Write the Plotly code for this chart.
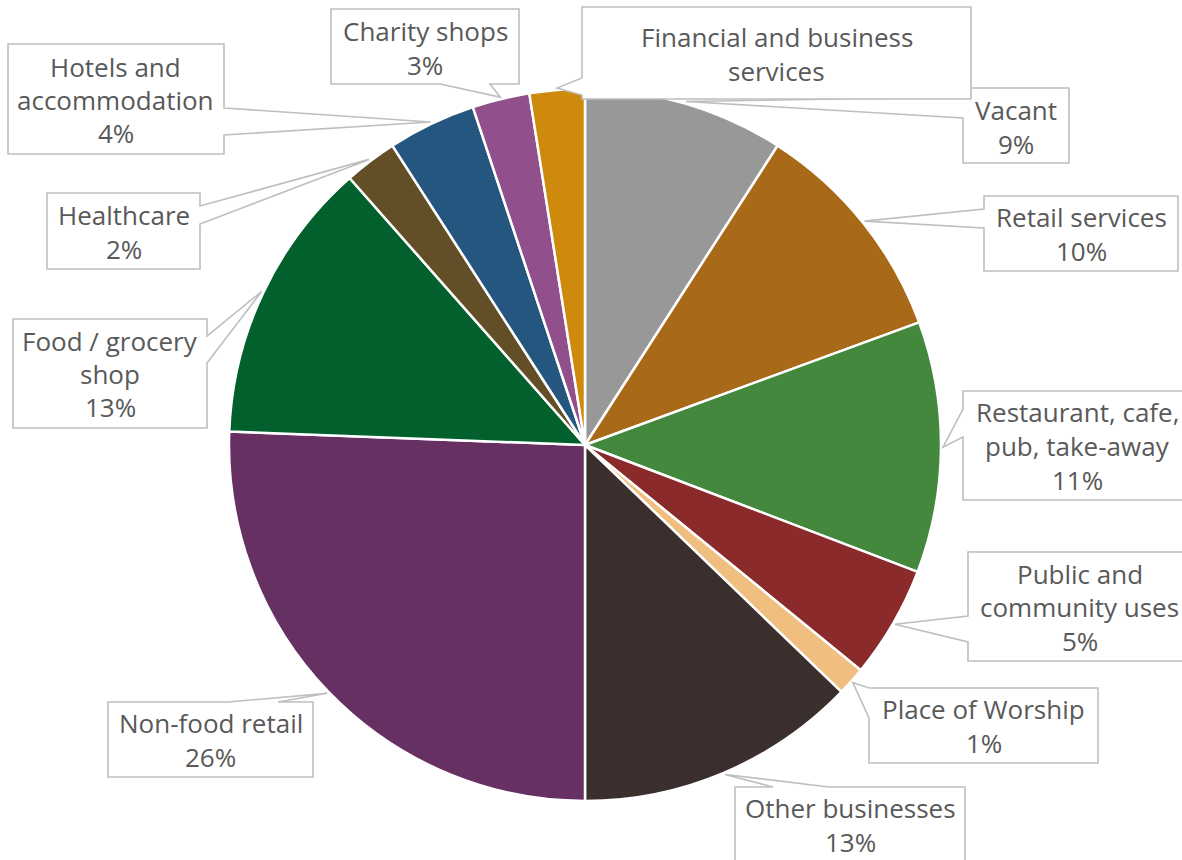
import math
import plotly.graph_objects as go

# Share of ground-floor units by use class (percent), clockwise from 12 o'clock
categories = [
    "Vacant", "Retail services", "Restaurant, cafe, pub, take-away",
    "Public and community uses", "Place of Worship", "Other businesses",
    "Non-food retail", "Food / grocery shop", "Healthcare",
    "Hotels and accommodation", "Charity shops", "Financial and business services",
]
share_pct = [9.1, 10.3, 11.4, 5.1, 1.3, 12.8, 25.6, 12.9, 2.4, 4.0, 2.6, 2.5]
slice_colors = [
    "#989898", "#A86918", "#43883D", "#8A2A2B", "#F0BE7E", "#3A2F2D",
    "#663062", "#01602C", "#634F27", "#24567F", "#914F8B", "#CE8A0C",
]
# Wrapped label names; the last callout shows the name only
label_names = [
    ["Vacant"], ["Retail services"], ["Restaurant, cafe,", "pub, take-away"],
    ["Public and", "community uses"], ["Place of Worship"], ["Other businesses"],
    ["Non-food retail"], ["Food / grocery", "shop"], ["Healthcare"],
    ["Hotels and", "accommodation"], ["Charity shops"], ["Financial and business", "services"],
]
show_pct = [True] * 11 + [False]

W, H = 1182, 860
CX, CY, R = 585, 445, 356          # pie centre and radius in pixels
TEXT_COLOR = "#595959"
BOX_LINE = "#BFBFBF"
FONT = "Open Sans"
FONT_SIZE = 26
LINE_GAP = 33.5                    # baseline-to-baseline spacing in pixels

# Callout geometry in pixels: box (x0, y0, x1, y1), side carrying the pointer,
# pointer base span along that side, and the vertical centre of the text block.
# Drawing order matters (later callouts sit on top).
callouts = {
    "Vacant": ((963, 88, 1069, 163), "left", (97, 118), 127),
    "Retail services": ((984, 196, 1178, 271), "left", (209, 228), 234),
    "Restaurant, cafe, pub, take-away": ((963, 391, 1191, 500), "left", (409, 437), 446),
    "Public and community uses": ((968, 552, 1191, 661), "left", (616, 642), 607),
    "Place of Worship": ((869, 688, 1098, 763), "left", (688, 718), 726),
    "Other businesses": ((735, 787, 965, 872), "top", (773, 829), 825),
    "Non-food retail": ((108, 702, 313, 777), "top", (228, 278), 740),
    "Food / grocery shop": ((13, 319, 207, 428), "right", (336, 363), 374),
    "Healthcare": ((47, 193, 200, 269), "right", (206, 224), 232),
    "Hotels and accommodation": ((8, 44, 224, 154), "right", (108, 135), 100),
    "Charity shops": ((331, 9, 519, 84), "bottom", (440, 490), 48),
    "Financial and business services": ((582, 7, 971, 99), "left", (78, 95), 54),
}


def px(x, y):
    """Pixel position -> paper coordinates."""
    return x / W, 1 - y / H


def callout_path(box, side, span, tip):
    x0, y0, x1, y1 = box
    a, b = span
    pts = [(x0, y0)]
    if side == "top":
        pts += [(a, y0), tip, (b, y0)]
    pts.append((x1, y0))
    if side == "right":
        pts += [(x1, a), tip, (x1, b)]
    pts.append((x1, y1))
    if side == "bottom":
        pts += [(b, y1), tip, (a, y1)]
    pts.append((x0, y1))
    if side == "left":
        pts += [(x0, b), tip, (x0, a)]
    coords = [px(*p) for p in pts]
    return "M " + " L ".join(f"{u:.5f},{v:.5f}" for u, v in coords) + " Z"


fig = go.Figure(
    go.Pie(
        labels=categories,
        values=share_pct,
        sort=False,
        direction="clockwise",
        rotation=0,
        marker=dict(colors=slice_colors, line=dict(color="white", width=2.5)),
        textinfo="none",
        hoverinfo="label+percent",
        showlegend=False,
        domain=dict(
            x=[(CX - R) / W, (CX + R) / W],
            y=[(H - CY - R) / H, (H - CY + R) / H],
        ),
    )
)

total = sum(share_pct)
shapes, annotations = [], []
cum = 0.0
for name, v, lines, pct in zip(categories, share_pct, label_names, show_pct):
    mid = (cum + v / 2) / total * 2 * math.pi
    cum += v
    tip = (CX + (R + 2) * math.sin(mid), CY - (R + 2) * math.cos(mid))
    box, side, span, ymid = callouts[name]
    shapes.append(dict(
        type="path", xref="paper", yref="paper",
        path=callout_path(box, side, span, tip),
        fillcolor="white", line=dict(color=BOX_LINE, width=1.6), layer="above",
    ))
    rows = list(lines) + ([f"{round(v / total * 100)}%"] if pct else [])
    xc = (box[0] + box[2]) / 2
    for i, row in enumerate(rows):
        yc = ymid + (i - (len(rows) - 1) / 2) * LINE_GAP
        ax, ay = px(xc, yc)
        annotations.append(dict(
            x=ax, y=ay, xref="paper", yref="paper", text=row, showarrow=False,
            xanchor="center", yanchor="middle",
            font=dict(family=FONT, size=FONT_SIZE, color=TEXT_COLOR),
        ))

fig.update_layout(
    width=W, height=H,
    margin=dict(l=0, r=0, t=0, b=0),
    paper_bgcolor="white", plot_bgcolor="white",
    shapes=shapes, annotations=annotations,
)

fig.write_html("out.html")
